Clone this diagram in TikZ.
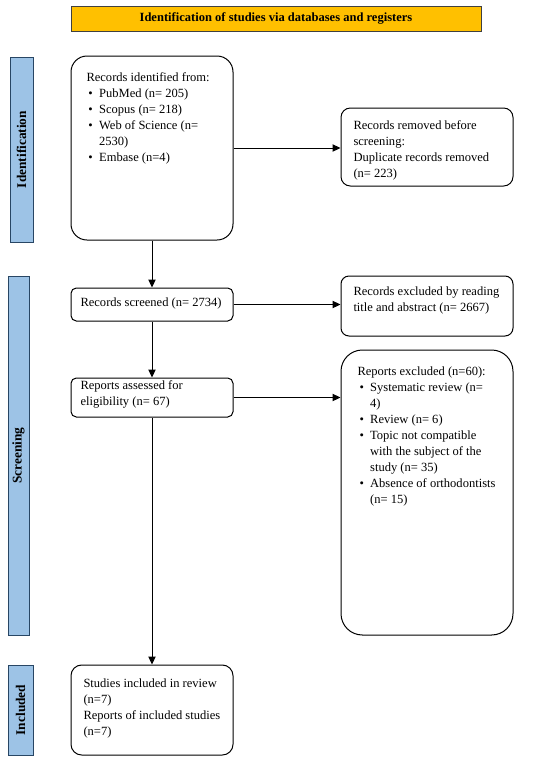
\documentclass[tikz,border=0pt]{standalone}
\usepackage{fontspec}
\setmainfont{Liberation Serif}
\usetikzlibrary{arrows.meta}
\tikzset{every picture/.style={line width=0.75pt}}
\definecolor{titleorange}{RGB}{255,192,0}
\definecolor{stageblue}{RGB}{157,195,230}
\definecolor{stageedge}{RGB}{40,70,100}
\newcommand{\bul}{\hspace*{1.5pt}\makebox[8pt][l]{\textbullet}}
\newcommand{\cont}{\hspace*{9.5pt}}

\begin{document}
\begin{tikzpicture}[x=0.75pt,y=0.75pt,yscale=-1,xscale=1,
	flowbox/.style={draw, inner sep=0pt},
	txt/.style={anchor=north west, inner sep=0pt, align=left, font=\fontsize{9.4}{12}\selectfont},
	stage/.style={draw=stageedge, fill=stageblue, inner sep=0pt},
	stagetxt/.style={rotate=90, font=\fontsize{10}{12}\selectfont\bfseries},
	flowarrow/.style={-{Triangle[length=6pt,width=5.5pt]}}]
		%set diagram left start at 0, and has height of 761
		\path (0,0) rectangle (550,761);
		
		%Title bar
		\node [draw=black!75, fill=titleorange, minimum width=307.5pt, minimum height=18.75pt, font=\fontsize{9.4}{11}\selectfont\bfseries] (title) at (276,18.5) {Identification of studies via databases and registers};
		
		%Stage bars
		\node [stage, minimum width=17.25pt, minimum height=138.75pt] (identbar) at (21.5,149.5) {};
		\node [stagetxt] (identlbl) at (identbar.center) {Identification};
		\node [stage, minimum width=15.75pt, minimum height=269.25pt] (screenbar) at (18.5,455.5) {};
		\node [stagetxt] (screenlbl) at (screenbar.center) {Screening};
		\node [stage, minimum width=18.75pt, minimum height=67.5pt] (inclbar) at (20.5,710) {};
		\node [stagetxt] (incllbl) at (inclbar.center) {Included};
		
		%Boxes
		\node [flowbox, rounded corners=12pt, minimum width=121.5pt, minimum height=138pt] (ident) at (152,148) {};
		\node [flowbox, rounded corners=7pt, minimum width=129pt, minimum height=58.5pt] (removed) at (427,147) {};
		\node [flowbox, rounded corners=4pt, minimum width=121.5pt, minimum height=24.75pt] (screened) at (152,304.5) {};
		\node [flowbox, rounded corners=6pt, minimum width=129pt, minimum height=45pt] (excl) at (427,306) {};
		\node [flowbox, rounded corners=4pt, minimum width=121.5pt, minimum height=29.25pt] (assessed) at (152,397.5) {};
		\node [flowbox, rounded corners=16pt, minimum width=129pt, minimum height=213.75pt] (rexcl) at (427,492.5) {};
		\node [flowbox, rounded corners=8pt, minimum width=121.5pt, minimum height=67.5pt] (incl) at (152,710) {};
		
		% Text Node
		\node [txt] (identtxt) at (86,72) {Records identified from:\\ \bul PubMed (n= 205)\\ \bul Scopus (n= 218)\\ \bul Web of Science (n=\\ \cont 2530)\\ \bul Embase (n=4)};
		% Text Node
		\node [txt] (removedtxt) at (353,120) {Records removed before\\ screening:\\ Duplicate records removed\\ (n= 223)};
		% Text Node
		\node [txt] (screenedtxt) at (80,297) {Records screened (n= 2734)};
		% Text Node
		\node [txt] (excltxt) at (353,286) {Records excluded by reading\\ title and abstract (n= 2667)};
		% Text Node
		\node [txt] (assessedtxt) at (80,380) {Reports assessed for\\ eligibility (n= 67)};
		% Text Node
		\node [txt] (rexcltxt) at (357,366) {Reports excluded (n=60):\\ \bul Systematic review (n=\\ \cont 4)\\ \bul Review (n= 6)\\ \bul Topic not compatible\\ \cont with the subject of the\\ \cont study (n= 35)\\ \bul Absence of orthodontists\\ \cont (n= 15)};
		% Text Node
		\node [txt] (incltxt) at (83,678) {Studies included in review\\ (n=7)\\ Reports of included studies\\ (n=7)};
		
		%Connectors
		\draw [flowarrow] (ident.south) -- (screened.north);
		\draw [flowarrow] (screened.south) -- (assessed.north);
		\draw [flowarrow] (assessed.south) -- (incl.north);
		\draw [flowarrow] (ident.east) -- (ident.east -| removed.west);
		\draw [flowarrow] (screened.east) -- (screened.east -| excl.west);
		\draw [flowarrow] (assessed.east) -- (assessed.east -| rexcl.west);
\end{tikzpicture}
\end{document}
